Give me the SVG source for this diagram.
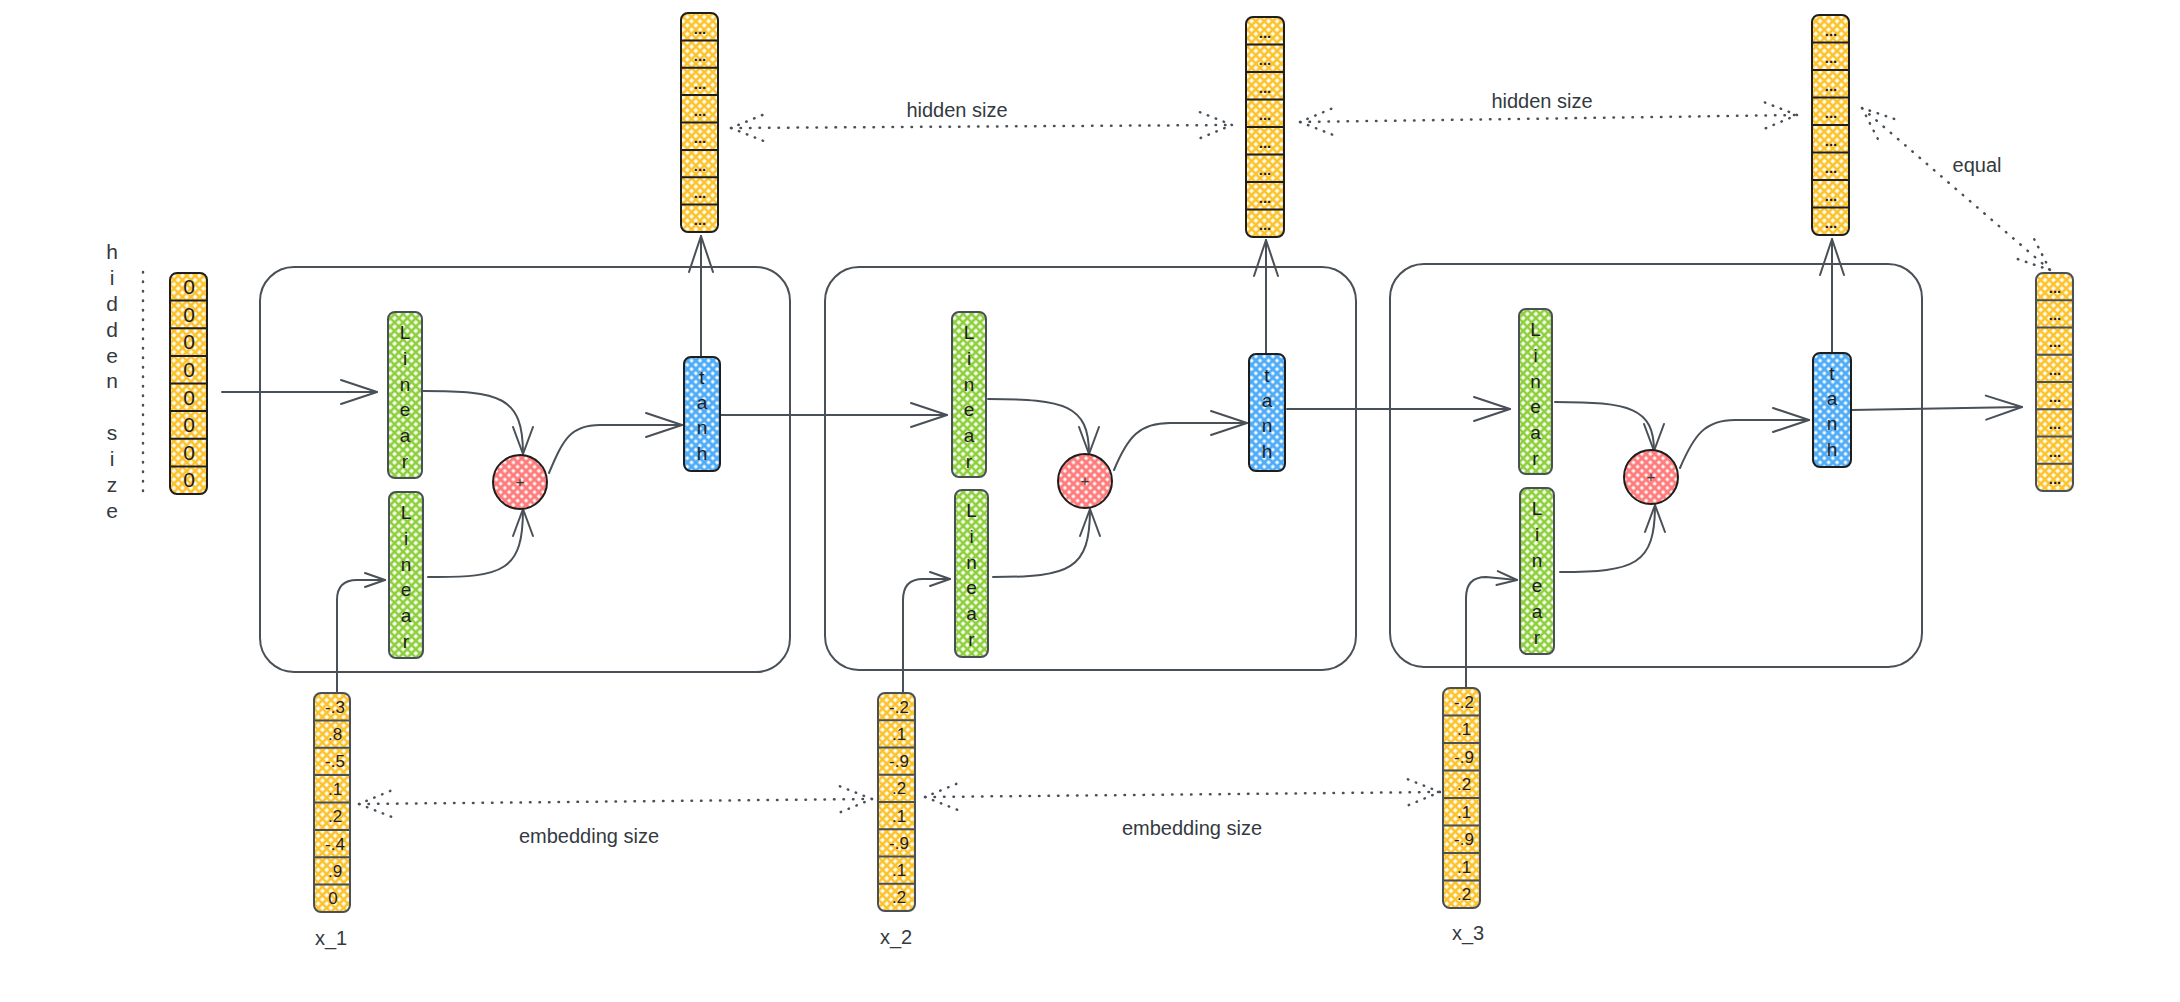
<svg xmlns="http://www.w3.org/2000/svg" width="2180" height="1002" viewBox="0 0 2180 1002">
<style>
.t{font-family:"Liberation Sans",Arial,sans-serif;fill:#343a40}
.lbl{font-size:20px;text-anchor:middle}
.vl{font-size:19px;text-anchor:middle;fill:#1e1e1e}
.num{font-size:17px;text-anchor:middle;fill:#1e1e1e}
.zero{font-size:21px;text-anchor:middle;fill:#1e1e1e}
.dots{font-size:15px;font-weight:bold;text-anchor:middle;fill:#1e1e1e}
.cell{fill:none;stroke:#495057;stroke-width:2}
.conn{fill:none;stroke:#495057;stroke-width:2;stroke-linecap:round;stroke-linejoin:round}
.dot{fill:none;stroke:#495057;stroke-width:2.5;stroke-linecap:round;stroke-dasharray:0.5 9}
.sep{stroke:#1e1e1e;stroke-width:2}
.sepg{stroke:#495057;stroke-width:2}
.vy{fill:url(#pY);stroke:#1e1e1e;stroke-width:2}
.vyg{fill:url(#pY);stroke:#495057;stroke-width:2}
.lin{fill:url(#pG);stroke:#495057;stroke-width:2}
.th{fill:url(#pB);stroke:#1e1e1e;stroke-width:2}
.pl{fill:url(#pR);stroke:#1e1e1e;stroke-width:2}
</style>
<defs>
<pattern id="pY" width="6" height="6" patternUnits="userSpaceOnUse" patternTransform="rotate(45)"><rect width="6" height="6" fill="#fff"/><path d="M0,3H6M3,0V6" stroke="#fcc22a" stroke-width="2.7"/></pattern>
<pattern id="pG" width="6" height="6" patternUnits="userSpaceOnUse" patternTransform="rotate(45)"><rect width="6" height="6" fill="#fff"/><path d="M0,3H6M3,0V6" stroke="#8ccf3a" stroke-width="2.7"/></pattern>
<pattern id="pB" width="6" height="6" patternUnits="userSpaceOnUse" patternTransform="rotate(45)"><rect width="6" height="6" fill="#fff"/><path d="M0,3H6M3,0V6" stroke="#4dabf7" stroke-width="2.9"/></pattern>
<pattern id="pR" width="6" height="6" patternUnits="userSpaceOnUse" patternTransform="rotate(45)"><rect width="6" height="6" fill="#fff"/><path d="M0,3H6M3,0V6" stroke="#ff7a7a" stroke-width="2.9"/></pattern>
<marker id="mL" markerUnits="userSpaceOnUse" markerWidth="50" markerHeight="40" viewBox="-45 -20 50 40" refX="0" refY="0" orient="auto-start-reverse"><path d="M-36,-12L0,0L-36,12" fill="none" stroke="#495057" stroke-width="2" stroke-linecap="round" stroke-linejoin="round"/></marker>
<marker id="mM" markerUnits="userSpaceOnUse" markerWidth="40" markerHeight="30" viewBox="-35 -15 40 30" refX="0" refY="0" orient="auto-start-reverse"><path d="M-27,-10L0,0L-27,10" fill="none" stroke="#495057" stroke-width="2" stroke-linecap="round" stroke-linejoin="round"/></marker>
<marker id="mS" markerUnits="userSpaceOnUse" markerWidth="30" markerHeight="20" viewBox="-25 -10 30 20" refX="0" refY="0" orient="auto-start-reverse"><path d="M-20,-7L0,0L-20,7" fill="none" stroke="#495057" stroke-width="2" stroke-linecap="round" stroke-linejoin="round"/></marker>
<marker id="mD" markerUnits="userSpaceOnUse" markerWidth="44" markerHeight="36" viewBox="-40 -18 44 36" refX="0" refY="0" orient="auto-start-reverse"><path d="M-32,-13L0,0L-32,13" fill="none" stroke="#495057" stroke-width="2.5" stroke-linecap="round" stroke-dasharray="0.5 8"/></marker>
</defs>
<rect width="2180" height="1002" fill="#fff"/>

<!-- cell containers -->
<g id="cell1"><rect class="cell" x="260" y="267" width="530" height="405" rx="34"/></g>
<g id="cell2"><rect class="cell" x="825" y="267" width="531" height="403" rx="34"/></g>
<g id="cell3"><rect class="cell" x="1390" y="264" width="532" height="403" rx="34"/></g>

<!-- connectors -->
<g id="connectors">
<path class="conn" d="M222,392L377,392" marker-end="url(#mL)"/>
<path class="conn" d="M423,391C500,391 523,396 523,454" marker-end="url(#mM)"/>
<path class="conn" d="M428,577C505,578 523,570 523,509" marker-end="url(#mM)"/>
<path class="conn" d="M549,473C563,440 570,425 600,425L682,425" marker-end="url(#mL)"/>
<path class="conn" d="M701,357L701,236" marker-end="url(#mL)"/>
<path class="conn" d="M720,415L947,415" marker-end="url(#mL)"/>
<path class="conn" d="M337,692L337,600Q337,580 357,580L385,580" marker-end="url(#mS)"/>

<path class="conn" d="M988,399C1065,399 1089,405 1089,454" marker-end="url(#mM)"/>
<path class="conn" d="M993,577C1070,577 1090,570 1090,509" marker-end="url(#mM)"/>
<path class="conn" d="M1114,470C1128,436 1140,423 1170,423L1247,423" marker-end="url(#mL)"/>
<path class="conn" d="M1266,354L1266,240" marker-end="url(#mL)"/>
<path class="conn" d="M1287,409L1510,409" marker-end="url(#mL)"/>
<path class="conn" d="M903,692L903,600Q903,579 923,579L950,579" marker-end="url(#mS)"/>

<path class="conn" d="M1555,402C1630,402 1654,408 1654,451" marker-end="url(#mM)"/>
<path class="conn" d="M1560,572C1635,572 1655,565 1655,505" marker-end="url(#mM)"/>
<path class="conn" d="M1680,468C1694,435 1705,420 1735,420L1809,420" marker-end="url(#mL)"/>
<path class="conn" d="M1832,353L1832,239" marker-end="url(#mL)"/>
<path class="conn" d="M1851,410L2022,407" marker-end="url(#mL)"/>
<path class="conn" d="M1466,688L1466,598Q1466,577 1486,577L1517,580" marker-end="url(#mS)"/>

<path class="dot" d="M359,804L872,799" marker-start="url(#mD)" marker-end="url(#mD)"/>
<path class="dot" d="M925,797L1440,792" marker-start="url(#mD)" marker-end="url(#mD)"/>
<path class="dot" d="M731,128L1232,125" marker-start="url(#mD)" marker-end="url(#mD)"/>
<path class="dot" d="M1300,122L1797,115" marker-start="url(#mD)" marker-end="url(#mD)"/>
<path class="dot" d="M1862,108L2050,270" marker-start="url(#mD)" marker-end="url(#mD)"/>
<path class="dot" d="M143,272L143,493"/>
</g>

<!-- labels -->
<g id="label-hidden-vertical">
<text class="t" font-size="21" text-anchor="middle"><tspan x="112" y="259">h</tspan><tspan x="112" y="285">i</tspan><tspan x="112" y="311">d</tspan><tspan x="112" y="337">d</tspan><tspan x="112" y="363">e</tspan><tspan x="112" y="388">n</tspan><tspan x="112" y="440">s</tspan><tspan x="112" y="466">i</tspan><tspan x="112" y="492">z</tspan><tspan x="112" y="518">e</tspan></text>
</g>
<g id="labels">
<text class="t lbl" x="957" y="117">hidden size</text>
<text class="t lbl" x="1542" y="108">hidden size</text>
<text class="t lbl" x="1977" y="172">equal</text>
<text class="t lbl" x="589" y="843">embedding size</text>
<text class="t lbl" x="1192" y="835">embedding size</text>
<text class="t lbl" x="331" y="945" font-size="19">x_1</text>
<text class="t lbl" x="896" y="944" font-size="19">x_2</text>
<text class="t lbl" x="1468" y="940" font-size="19">x_3</text>
</g>

<!-- initial hidden vector -->
<g id="h0">
<rect class="vy" x="170" y="273" width="37" height="221" rx="7"/>
<path class="sep" d="M170,300.6H207M170,328.3H207M170,355.9H207M170,383.5H207M170,411.1H207M170,438.8H207M170,466.4H207"/>
<text class="t zero" x="189" y="294">0</text><text class="t zero" x="189" y="322">0</text><text class="t zero" x="189" y="349">0</text><text class="t zero" x="189" y="377">0</text><text class="t zero" x="189" y="405">0</text><text class="t zero" x="189" y="432">0</text><text class="t zero" x="189" y="460">0</text><text class="t zero" x="189" y="487">0</text>
</g>

<!-- input vectors -->
<g id="x1">
<rect class="vyg" x="314" y="693" width="36" height="219" rx="7"/>
<path class="sepg" d="M314,720.4H350M314,747.8H350M314,775.1H350M314,802.5H350M314,829.9H350M314,857.3H350M314,884.6H350"/>
<text class="t num" x="335" y="713">-.3</text><text class="t num" x="335" y="740">.8</text><text class="t num" x="335" y="767">-.5</text><text class="t num" x="335" y="795">.1</text><text class="t num" x="335" y="822">.2</text><text class="t num" x="335" y="850">-.4</text><text class="t num" x="335" y="877">.9</text><text class="t num" x="333" y="904">0</text>
</g>
<g id="x2">
<rect class="vyg" x="878" y="693" width="37" height="218" rx="7"/>
<path class="sepg" d="M878,720.3H915M878,747.5H915M878,774.8H915M878,802H915M878,829.3H915M878,856.5H915M878,883.8H915"/>
<text class="t num" x="899" y="713">-.2</text><text class="t num" x="899" y="740">.1</text><text class="t num" x="899" y="767">-.9</text><text class="t num" x="899" y="794">.2</text><text class="t num" x="899" y="822">.1</text><text class="t num" x="899" y="849">-.9</text><text class="t num" x="899" y="876">.1</text><text class="t num" x="899" y="903">.2</text>
</g>
<g id="x3">
<rect class="vyg" x="1443" y="688" width="37" height="220" rx="7"/>
<path class="sepg" d="M1443,715.5H1480M1443,743H1480M1443,770.5H1480M1443,798H1480M1443,825.5H1480M1443,853H1480M1443,880.5H1480"/>
<text class="t num" x="1464" y="708">-.2</text><text class="t num" x="1464" y="735">.1</text><text class="t num" x="1464" y="763">-.9</text><text class="t num" x="1464" y="790">.2</text><text class="t num" x="1464" y="818">.1</text><text class="t num" x="1464" y="845">-.9</text><text class="t num" x="1464" y="873">.1</text><text class="t num" x="1464" y="900">.2</text>
</g>

<!-- output hidden vectors -->
<g id="h1">
<rect class="vy" x="681" y="13" width="37" height="219" rx="7"/>
<path class="sep" d="M681,40.4H718M681,67.8H718M681,95.1H718M681,122.5H718M681,149.9H718M681,177.3H718M681,204.6H718"/>
<text class="t dots" x="700" y="34">...</text><text class="t dots" x="700" y="61">...</text><text class="t dots" x="700" y="89">...</text><text class="t dots" x="700" y="116">...</text><text class="t dots" x="700" y="143">...</text><text class="t dots" x="700" y="171">...</text><text class="t dots" x="700" y="198">...</text><text class="t dots" x="700" y="225">...</text>
</g>
<g id="h2">
<rect class="vy" x="1246" y="17" width="38" height="220" rx="7"/>
<path class="sep" d="M1246,44.5H1284M1246,72H1284M1246,99.5H1284M1246,127H1284M1246,154.5H1284M1246,182H1284M1246,209.5H1284"/>
<text class="t dots" x="1265" y="38">...</text><text class="t dots" x="1265" y="65">...</text><text class="t dots" x="1265" y="93">...</text><text class="t dots" x="1265" y="120">...</text><text class="t dots" x="1265" y="148">...</text><text class="t dots" x="1265" y="175">...</text><text class="t dots" x="1265" y="203">...</text><text class="t dots" x="1265" y="230">...</text>
</g>
<g id="h3">
<rect class="vy" x="1812" y="15" width="37" height="220" rx="7"/>
<path class="sep" d="M1812,42.5H1849M1812,70H1849M1812,97.5H1849M1812,125H1849M1812,152.5H1849M1812,180H1849M1812,207.5H1849"/>
<text class="t dots" x="1831" y="36">...</text><text class="t dots" x="1831" y="63">...</text><text class="t dots" x="1831" y="91">...</text><text class="t dots" x="1831" y="118">...</text><text class="t dots" x="1831" y="146">...</text><text class="t dots" x="1831" y="173">...</text><text class="t dots" x="1831" y="201">...</text><text class="t dots" x="1831" y="228">...</text>
</g>
<g id="hout">
<rect class="vyg" x="2036" y="273" width="37" height="218" rx="7"/>
<path class="sepg" d="M2036,300.3H2073M2036,327.5H2073M2036,354.8H2073M2036,382H2073M2036,409.3H2073M2036,436.5H2073M2036,463.8H2073"/>
<text class="t dots" x="2055" y="293">...</text><text class="t dots" x="2055" y="320">...</text><text class="t dots" x="2055" y="347">...</text><text class="t dots" x="2055" y="375">...</text><text class="t dots" x="2055" y="402">...</text><text class="t dots" x="2055" y="429">...</text><text class="t dots" x="2055" y="457">...</text><text class="t dots" x="2055" y="484">...</text>
</g>

<!-- Linear layers -->
<g id="linear1a"><rect class="lin" x="388" y="312" width="34" height="166" rx="7"/><text class="t vl"><tspan x="405" y="339">L</tspan><tspan x="405" y="365">i</tspan><tspan x="405" y="391">n</tspan><tspan x="405" y="416">e</tspan><tspan x="405" y="442">a</tspan><tspan x="405" y="468">r</tspan></text></g>
<g id="linear1b"><rect class="lin" x="389" y="492" width="34" height="166" rx="7"/><text class="t vl"><tspan x="406" y="519">L</tspan><tspan x="406" y="545">i</tspan><tspan x="406" y="571">n</tspan><tspan x="406" y="596">e</tspan><tspan x="406" y="622">a</tspan><tspan x="406" y="648">r</tspan></text></g>
<g id="linear2a"><rect class="lin" x="952" y="312" width="34" height="165" rx="7"/><text class="t vl"><tspan x="969" y="339">L</tspan><tspan x="969" y="365">i</tspan><tspan x="969" y="391">n</tspan><tspan x="969" y="416">e</tspan><tspan x="969" y="442">a</tspan><tspan x="969" y="468">r</tspan></text></g>
<g id="linear2b"><rect class="lin" x="955" y="490" width="33" height="167" rx="7"/><text class="t vl"><tspan x="971.5" y="517">L</tspan><tspan x="971.5" y="543">i</tspan><tspan x="971.5" y="569">n</tspan><tspan x="971.5" y="594">e</tspan><tspan x="971.5" y="620">a</tspan><tspan x="971.5" y="646">r</tspan></text></g>
<g id="linear3a"><rect class="lin" x="1519" y="309" width="33" height="165" rx="7"/><text class="t vl"><tspan x="1535.5" y="336">L</tspan><tspan x="1535.5" y="362">i</tspan><tspan x="1535.5" y="388">n</tspan><tspan x="1535.5" y="413">e</tspan><tspan x="1535.5" y="439">a</tspan><tspan x="1535.5" y="465">r</tspan></text></g>
<g id="linear3b"><rect class="lin" x="1520" y="488" width="34" height="166" rx="7"/><text class="t vl"><tspan x="1537" y="515">L</tspan><tspan x="1537" y="541">i</tspan><tspan x="1537" y="567">n</tspan><tspan x="1537" y="592">e</tspan><tspan x="1537" y="618">a</tspan><tspan x="1537" y="644">r</tspan></text></g>

<!-- adders -->
<g id="plus1"><circle class="pl" cx="520" cy="482" r="27"/><text class="t" x="520" y="487" font-size="15" text-anchor="middle" fill="#1e1e1e">+</text></g>
<g id="plus2"><circle class="pl" cx="1085" cy="481" r="27"/><text class="t" x="1085" y="486" font-size="15" text-anchor="middle" fill="#1e1e1e">+</text></g>
<g id="plus3"><circle class="pl" cx="1651" cy="477" r="27"/><text class="t" x="1651" y="482" font-size="15" text-anchor="middle" fill="#1e1e1e">+</text></g>

<!-- tanh -->
<g id="tanh1"><rect class="th" x="684" y="357" width="36" height="114" rx="7"/><text class="t vl"><tspan x="702" y="384">t</tspan><tspan x="702" y="409">a</tspan><tspan x="702" y="434">n</tspan><tspan x="702" y="460">h</tspan></text></g>
<g id="tanh2"><rect class="th" x="1249" y="354" width="36" height="117" rx="7"/><text class="t vl"><tspan x="1267" y="382">t</tspan><tspan x="1267" y="407">a</tspan><tspan x="1267" y="432">n</tspan><tspan x="1267" y="458">h</tspan></text></g>
<g id="tanh3"><rect class="th" x="1813" y="353" width="38" height="114" rx="7"/><text class="t vl"><tspan x="1832" y="380">t</tspan><tspan x="1832" y="405">a</tspan><tspan x="1832" y="430">n</tspan><tspan x="1832" y="456">h</tspan></text></g>
</svg>
